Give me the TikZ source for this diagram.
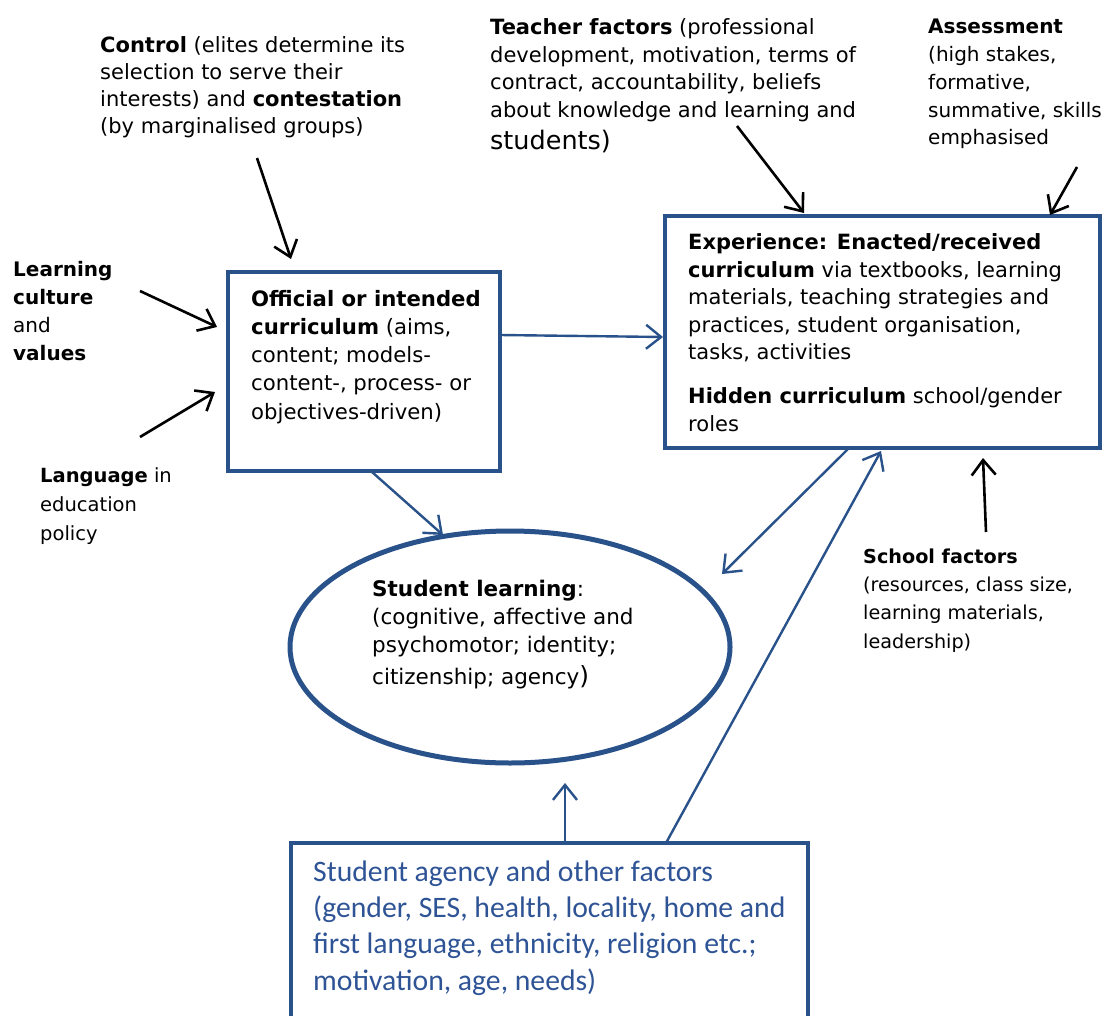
\documentclass[tikz,border=0pt]{standalone}
\usepackage{fontspec}
\setmainfont{DejaVu Sans}
\newfontfamily\calib{Carlito}
\usetikzlibrary{arrows.meta,shapes.geometric,calc}
\definecolor{boxblue}{RGB}{41,82,138}
\definecolor{txtblue}{RGB}{47,84,150}
\begin{document}
\begin{tikzpicture}[x=1pt,y=-1pt,
  txt/.style={anchor=base west, align=left, inner sep=0pt, font=\fontsize{21}{27.5}\selectfont},
  boxs/.style={draw=boxblue, line width=3.5pt, inner sep=0pt, outer sep=0pt},
  blk/.style={draw=black, line width=2.6pt, -{Straight Barb[length=15pt,width=24pt]}},
  blu/.style={draw=boxblue, line width=2.4pt, -{Straight Barb[length=15pt,width=24pt]}}]
\useasboundingbox (0,0) rectangle (1115,1016);
\clip (0,0) rectangle (1115,1016);

% boxes
\node[boxs, minimum width=272pt, minimum height=199pt] (off) at (364,371.5) {};
\node[boxs, minimum width=435pt, minimum height=232pt] (exp) at (882.5,332) {};
\node[boxs, minimum width=517pt, minimum height=207pt] (ag) at (549.5,946.5) {};
\node[draw=boxblue, line width=5pt, ellipse, inner sep=0pt, outer sep=0pt,
      minimum width=440pt, minimum height=232pt] (ell) at (510,647) {};

% texts
\node[txt, font=\fontsize{21}{27.3}\selectfont] (ctl) at (100,134) {\textbf{Control} (elites determine its\\selection to serve their\\interests) and \textbf{contestation}\\(by marginalised groups)};
\node[txt] (teach) at (490,150) {\textbf{Teacher factors} (professional\\development, motivation, terms of\\contract, accountability, beliefs\\about knowledge and learning and\\[5pt]{\fontsize{25.5}{30}\selectfont students)}};
\node[txt, font=\fontsize{20}{27.75}\selectfont] (asst) at (928,145) {\textbf{Assessment}\\(high stakes,\\formative,\\summative, skills\\emphasised};
\node[txt, font=\fontsize{20}{27.7}\selectfont] (lcv) at (13,360) {\textbf{Learning}\\\textbf{culture}\\and\\\textbf{values}};
\node[txt, font=\fontsize{19.5}{29}\selectfont] (lang) at (40,540) {\textbf{Language} in\\education\\policy};
\node[txt, font=\fontsize{21.2}{28.25}\selectfont] (offt) at (251,419) {\textbf{Official or intended}\\\textbf{curriculum} (aims,\\content; models-\\content-, process- or\\objectives-driven)};
\node[txt] (expt) at (688,431) {\textbf{Experience: Enacted/received}\\\textbf{curriculum} via textbooks, learning\\materials, teaching strategies and\\practices, student organisation,\\tasks, activities\\[16.5pt]\textbf{Hidden curriculum} school/gender\\roles};
\node[txt, font=\fontsize{21.5}{28}\selectfont] (ellt) at (372,684) {\textbf{Student learning}:\\(cognitive, affective and\\psychomotor; identity;\\[4pt]citizenship; agency{\fontsize{25}{28}\selectfont )}};
\node[txt, font=\fontsize{19.2}{28.3}\selectfont] (sch) at (863,648) {\textbf{School factors}\\(resources, class size,\\learning materials,\\leadership)};
\node[txt, font=\calib\fontsize{29.7}{36.3}\selectfont, text=txtblue] (agt) at (313,990) {Student agency and other factors\\(gender, SES, health, locality, home and\\first language, ethnicity, religion etc.;\\motivation, age, needs)};

% free ends of black arrows
\coordinate (ctlA) at (257,158);
\coordinate (lcvA) at (140,291);
\coordinate (langA) at (140,437);
\coordinate (teachA) at (737,126);
\coordinate (asstA) at (1077,167);
\coordinate (schA) at (986,532);

% black arrows
\draw[blk] (ctlA) -- ($(off.north west)+(63,-13)$);
\draw[blk] (lcvA) -- ($(off.north west)+(-11,55)$);
\draw[blk] (langA) -- ($(off.north west)+(-13,120)$);
\draw[blk] (teachA) -- ($(exp.north west)+(139,-3)$);
\draw[blk] (asstA) -- ($(exp.north east)+(-50,-1)$);
\draw[blk] (schA) -- ($(exp.south east)+(-117,10)$);

% blue arrows
\draw[blu] ($(off.north east)+(0,63)$) -- ($(exp.north west)+(-2,121)$);
\draw[blu] ($(off.south west)+(144,1)$) -- ($(ell.center)+(-67,-112)$);
\draw[blu] ($(exp.south west)+(183,1)$) -- ($(ell.center)+(212,-73)$);
\draw[blu] ($(ag.north west)+(375,0)$) -- ($(exp.south west)+(216,3)$);
\draw[blu] ($(ag.north west)+(274,0)$) -- ($(ell.south)+(55,20)$);
\end{tikzpicture}
\end{document}
